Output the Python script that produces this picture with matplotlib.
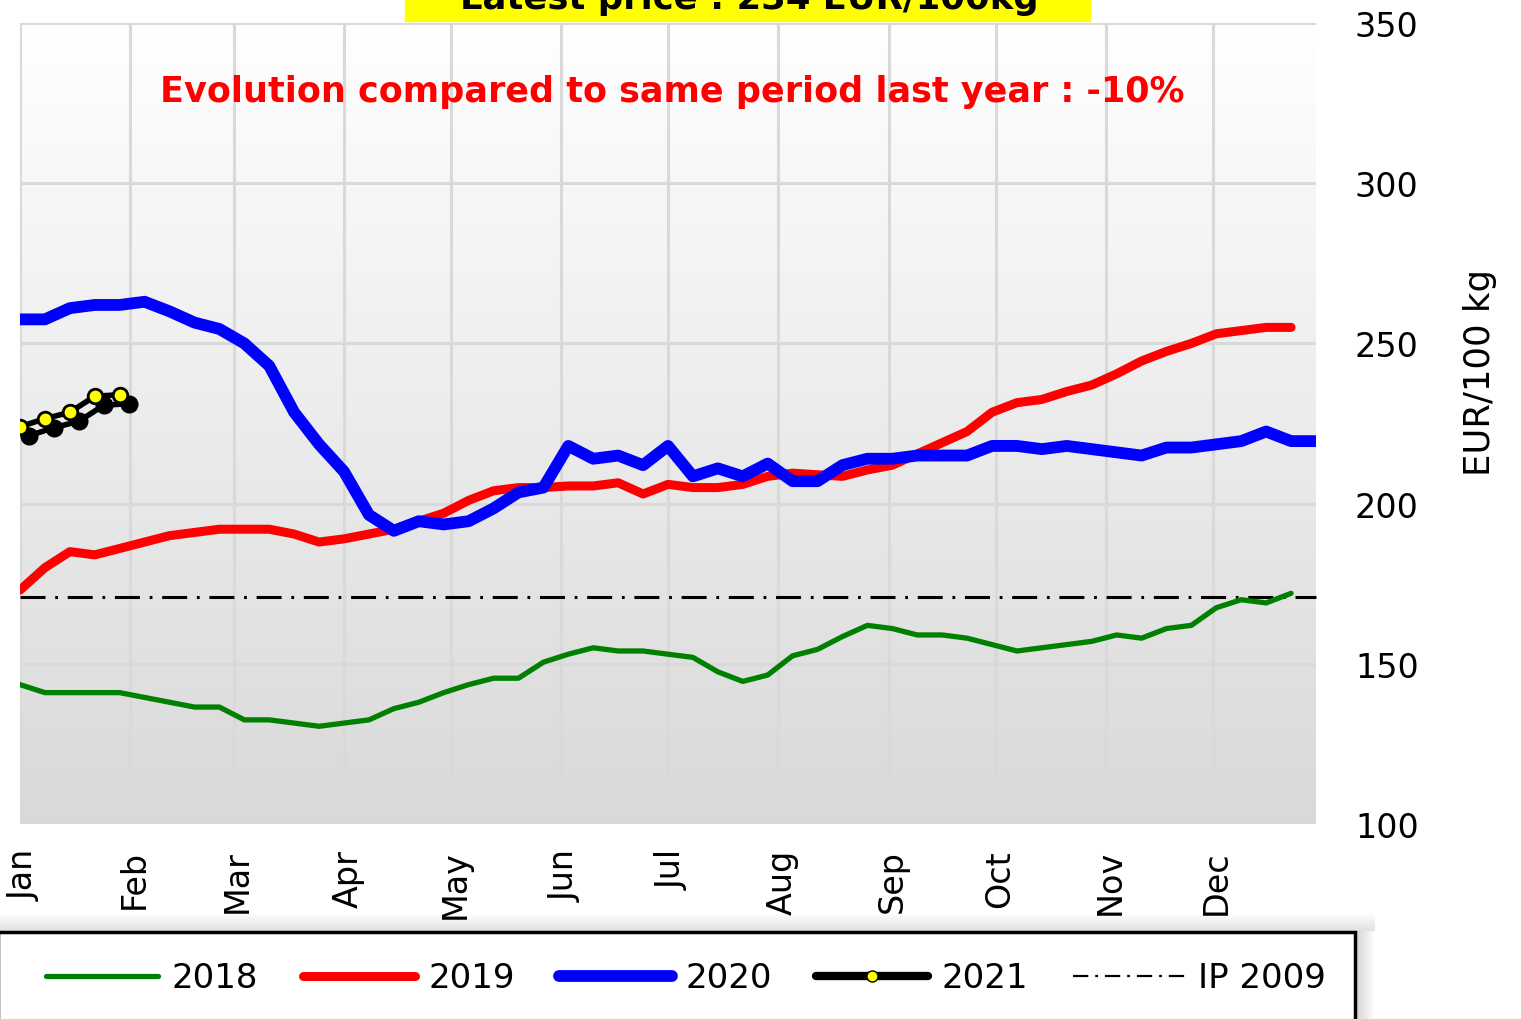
import numpy as np
import matplotlib
matplotlib.use("Agg")
from matplotlib import pyplot as plt
from matplotlib import transforms
from matplotlib.patches import Rectangle
from matplotlib.lines import Line2D

plt.rcParams['font.family'] = ['DejaVu Sans']
plt.rcParams['lines.scale_dashes'] = False

# weekly prices, EUR/100 kg
p2018 = [143.5, 141, 141, 141, 141, 139.5, 138, 136.5, 136.5, 132.5, 132.5, 131.5, 130.5,
         131.5, 132.5, 136, 138, 141, 143.5, 145.5, 145.5, 150.5, 153, 155, 154, 154,
         153, 152, 147.5, 144.5, 146.5, 152.5, 154.5, 158.5, 162, 161, 159, 159, 158,
         156, 154, 155, 156, 157, 159, 158, 161, 162, 167.5, 170, 169, 172]
p2019 = [173, 180, 185, 184, 186, 188, 190, 191, 192, 192, 192, 190.5, 188, 189, 190.5,
         192, 194.5, 197, 201, 204, 205, 205, 205.5, 205.5, 206.5, 203, 206, 205, 205,
         206, 208.5, 209.5, 209, 208.5, 210.5, 212, 215.5, 219, 222.5, 228.5, 231.5,
         232.5, 235, 237, 240.5, 244.5, 247.5, 250, 253, 254, 255, 255]
p2020 = [257.5, 257.5, 261, 262, 262, 263, 260, 256.5, 254.5, 250, 243, 228.5, 218.5,
         210, 196.5, 191.5, 194.5, 193.5, 194.5, 198.5, 203.5, 205, 218, 214, 215, 212,
         218, 208.5, 211, 208.5, 212.5, 207, 207, 212, 214, 214, 215, 215, 215, 218, 218,
         217, 218, 217, 216, 215, 217.5, 217.5, 218.5, 219.5, 222.5, 219.5, 219.5]
p2021 = [224, 226.5, 228.5, 233.5, 234]
ip_2009 = 171

months = ['Jan', 'Feb', 'Mar', 'Apr', 'May', 'Jun', 'Jul', 'Aug', 'Sep', 'Oct', 'Nov', 'Dec']
month_start_day = [0, 31, 60, 91, 121, 152, 182, 213, 244, 274, 305, 335]
yticks = [100, 150, 200, 250, 300, 350]

W, H = 1521, 1020
fig = plt.figure(figsize=(W / 100, H / 100), dpi=100)

# shaded band above legend and shadow right of it (behind everything)
band = fig.add_axes([0, 1 - 932 / H, 1375 / W, 18 / H])
g = np.linspace(1.0, 0.88, 64).reshape(-1, 1)
band.imshow(np.dstack([g, g, g]), aspect='auto', extent=[0, 1, 0, 1])
band.axis('off')
band.set_zorder(-2)
side = fig.add_axes([1355 / W, 0, 20 / W, 1 - 932 / H])
g2 = np.linspace(0.82, 1.0, 64).reshape(1, -1)
side.imshow(np.dstack([g2, g2, g2]), aspect='auto', extent=[0, 1, 0, 1])
side.axis('off')
side.set_zorder(-2)

ax = fig.add_axes([20 / W, 1 - 825 / H, 1296 / W, 801 / H])
ax.set_zorder(1)
ax.set_xlim(1, 53)
ax.set_ylim(100, 350)

# background gradient
grad = np.concatenate([np.linspace(1.0, 0.97, 50), np.linspace(0.97, 0.85, 206)]).reshape(-1, 1)
ax.imshow(np.dstack([grad, grad, grad]), extent=[1, 53, 100, 350], aspect='auto', zorder=0)

for y in yticks:
    ax.axhline(y, color='#d9d9d9', lw=2.2, zorder=1)
mpos = [1 + d / 7 for d in month_start_day]
for x in mpos:
    ax.axvline(x, color='#d9d9d9', lw=2.2, zorder=1)

w18 = np.arange(1, len(p2018) + 1)
w19 = np.arange(1, len(p2019) + 1)
w20 = np.arange(1, len(p2020) + 1)
w21 = np.arange(1, len(p2021) + 1)

ax.plot(w18, p2018, color='#008000', lw=3.8, solid_capstyle='round', zorder=3)
ax.plot(w19, p2019, color='#ff0000', lw=6.5, solid_capstyle='round', zorder=3)
ax.plot(w20, p2020, color='#0000ff', lw=8.5, solid_capstyle='butt', zorder=4)
ax.plot([1, 53], [ip_2009, ip_2009], color='black', lw=2.2, dashes=(18, 7, 2, 7),
        clip_on=False, zorder=2)

shadow = transforms.offset_copy(ax.transData, fig=fig, x=9, y=-9, units='dots')
ax.plot(w21, p2021, color='black', lw=4, marker='o', ms=12, mfc='black', mec='black',
        transform=shadow, zorder=5)
ax.plot(w21, p2021, color='black', lw=4, marker='o', ms=10.5, mfc='#ffff00', mec='black',
        mew=2, zorder=6)

for s in ax.spines.values():
    s.set_visible(False)
ax.set_xticks([])
ax.set_yticks(yticks)
ax.set_yticklabels([str(v) for v in yticks], fontsize=24)
ax.yaxis.tick_right()
ax.tick_params(axis='y', length=0, pad=28)

# month labels, a little right of their gridline
lab_tr = ax.get_xaxis_transform() + transforms.ScaledTranslation(4 / 100, -25 / 100,
                                                                 fig.dpi_scale_trans)
for x, m in zip(mpos, months):
    ax.text(x, 0, m, transform=lab_tr, rotation=90, fontsize=24, ha='center', va='top')

fig.text(1480 / W, 1 - 373 / H, 'EUR/100 kg', rotation=90, fontsize=25.5,
         ha='center', va='center')

# title box and comment
fig.patches.append(Rectangle((405 / W, 1 - 22 / H), 685 / W, 22 / H, color='#ffff00',
                             transform=fig.transFigure, zorder=1))
fig.text(749 / W, 1 - 9 / H, 'Latest price : 234 EUR/100kg', fontsize=25.5,
         fontweight='bold', ha='center', va='baseline', zorder=2)
fig.text(672 / W, 1 - 92 / H, 'Evolution compared to same period last year : -10%',
         fontsize=25.2, fontweight='bold', color='#ff0000', ha='center', va='center')

# legend
fig.patches.append(Rectangle((-2 / W, -10 / H), 1357 / W, 97 / H, fill=True,
                             facecolor='white', edgecolor='black', lw=2.5,
                             transform=fig.transFigure, zorder=3))
handles = [
    Line2D([], [], color='#008000', lw=3.8, solid_capstyle='round'),
    Line2D([], [], color='#ff0000', lw=6.5, solid_capstyle='round'),
    Line2D([], [], color='#0000ff', lw=8.5, solid_capstyle='round'),
    Line2D([], [], color='black', lw=6, marker='o', ms=8, mfc='#ffff00', mec='black',
           mew=1, solid_capstyle='round'),
    Line2D([], [], color='black', lw=1.6, dashes=(11, 5, 2, 5)),
]
leg = fig.legend(handles, ['2018', '2019', '2020', '2021', 'IP 2009'], ncol=5,
                 loc='center left', bbox_to_anchor=(46 / W, 1 - 979 / H), frameon=False,
                 fontsize=24.5, handlelength=3.3, handletextpad=0.4, columnspacing=1.3,
                 borderpad=0, borderaxespad=0, numpoints=1)
leg.set_zorder(4)

fig.savefig('out.png', dpi=100)
